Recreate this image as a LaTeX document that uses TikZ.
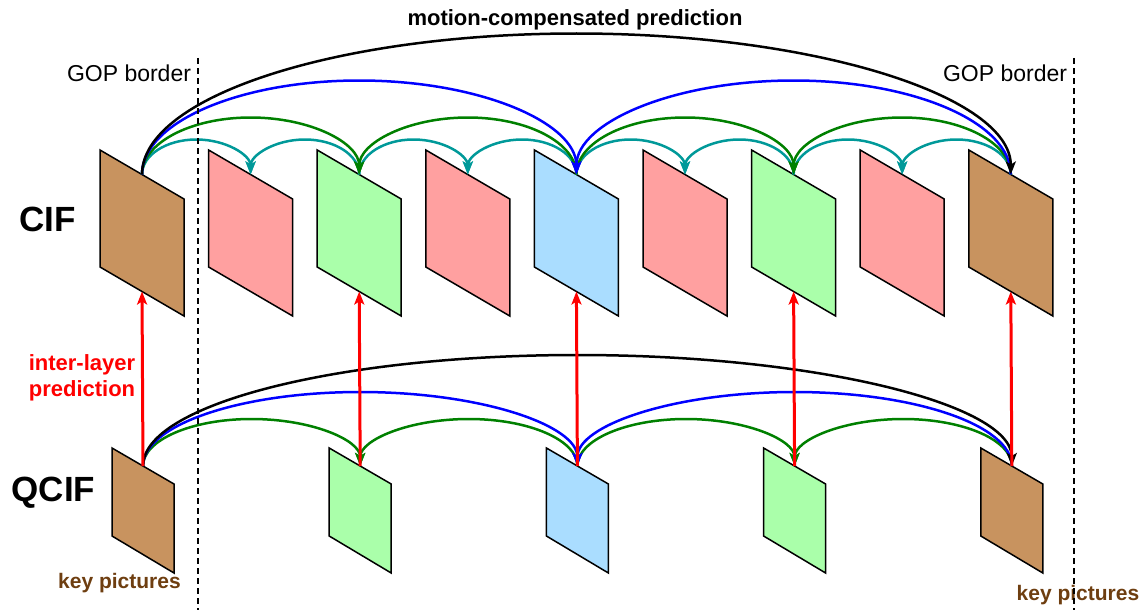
\documentclass[tikz,border=0pt]{standalone}
\usepackage{fontspec}
\setmainfont{Liberation Sans}
\usetikzlibrary{arrows.meta}
\definecolor{fbrown}{RGB}{200,147,95}
\definecolor{fpink}{RGB}{255,160,160}
\definecolor{fgreen}{RGB}{170,255,170}
\definecolor{fblue}{RGB}{170,221,255}
\definecolor{ateal}{RGB}{0,153,153}
\definecolor{agreen}{RGB}{0,128,0}
\definecolor{ablue}{RGB}{0,0,255}
\definecolor{keybrown}{RGB}{110,62,16}
\begin{document}
\begin{tikzpicture}[x=1pt,y=-1pt,
  framestyle/.style={draw=black,line width=1.5pt,line join=miter},
  arc/.style={line width=2.5pt,-{Stealth[length=13pt,width=10pt,inset=3pt]}},
  tealarc/.style={arc,ateal},
  greenarc/.style={arc,agreen},
  bluearc/.style={arc,ablue},
  blackarc/.style={arc,black},
  redarrow/.style={line width=3pt,red,-{Stealth[length=13pt,width=10pt,inset=3pt]}},
  gopline/.style={line width=2.3pt,dash pattern=on 6pt off 4pt},
  goptext/.style={font=\fontsize{23}{26}\selectfont,inner sep=0pt},
  layertext/.style={font=\fontsize{35}{40}\selectfont\bfseries,inner sep=0pt},
  keytext/.style={font=\fontsize{21}{24}\selectfont\bfseries,text=keybrown,inner sep=0pt}
]
\useasboundingbox (0,0) rectangle (1147,610);

% CIF frames
\foreach \i/\c in {0/fbrown,1/fpink,2/fgreen,3/fpink,4/fblue,5/fpink,6/fgreen,7/fpink,8/fbrown}{
  \pgfmathsetmacro\xl{100+108.6*\i}
  \draw[framestyle,fill=\c] (\xl,150) -- ++(84,49) -- ++(0,117) -- ++(-84,-49) -- cycle;
  \coordinate (C\i) at (\xl+42,174.5);
  \coordinate (Cb\i) at (\xl+42,291.5);
}
% QCIF frames
\foreach \j/\c in {0/fbrown,1/fgreen,2/fblue,3/fgreen,4/fbrown}{
  \pgfmathsetmacro\xl{112+217.2*\j}
  \draw[framestyle,fill=\c] (\xl,448) -- ++(62,36) -- ++(0,89) -- ++(-62,-37) -- cycle;
  \coordinate (Q\j) at (\xl+31,466);
}

% CIF arcs (elliptic, from source frame to target frame)
\foreach \a in {0,2,4,6}
  \draw[tealarc] (C\a) arc[start angle=180,end angle=0,x radius=54.3pt,y radius=35pt];
\foreach \a in {2,4,6,8}
  \draw[tealarc] (C\a) arc[start angle=0,end angle=180,x radius=54.3pt,y radius=35pt];
\foreach \a in {0,4}
  \draw[greenarc] (C\a) arc[start angle=180,end angle=0,x radius=108.6pt,y radius=57pt];
\foreach \a in {4,8}
  \draw[greenarc] (C\a) arc[start angle=0,end angle=180,x radius=108.6pt,y radius=57pt];
\draw[bluearc] (C0) arc[start angle=180,end angle=0,x radius=217.2pt,y radius=94pt];
\draw[bluearc] (C8) arc[start angle=0,end angle=180,x radius=217.2pt,y radius=94pt];
\draw[blackarc] (C0) arc[start angle=180,end angle=0,x radius=434.4pt,y radius=141pt];

% QCIF arcs
\foreach \a in {0,2}
  \draw[greenarc] (Q\a) arc[start angle=180,end angle=0,x radius=108.6pt,y radius=47pt];
\foreach \a in {2,4}
  \draw[greenarc] (Q\a) arc[start angle=0,end angle=180,x radius=108.6pt,y radius=47pt];
\draw[bluearc] (Q0) arc[start angle=180,end angle=0,x radius=217.2pt,y radius=74pt];
\draw[bluearc] (Q4) arc[start angle=0,end angle=180,x radius=217.2pt,y radius=74pt];
\draw[blackarc] (Q0) arc[start angle=180,end angle=0,x radius=434.4pt,y radius=111pt];

% inter-layer arrows
\draw[redarrow] (Q0) -- (Cb0);
\draw[redarrow] (Q1) -- (Cb2);
\draw[redarrow] (Q2) -- (Cb4);
\draw[redarrow] (Q3) -- (Cb6);
\draw[redarrow] (Q4) -- (Cb8);

% labels
\node[font=\fontsize{22}{24}\selectfont\bfseries,inner sep=0pt] (title) at (575,20) {motion-compensated prediction};
\node[goptext] (gopL) at (129,73) {GOP border};
\node[goptext] (gopR) at (1005,73) {GOP border};
\node[layertext] (cif) at (47.5,219.5) {CIF};
\node[layertext] (qcif) at (53.5,492.5) {QCIF};
\node[font=\fontsize{22}{26}\selectfont\bfseries,text=red,align=center,inner sep=0pt] (ilp) at (82,378) {inter-layer\\prediction};
\node[keytext] (keyL) at (119.5,583) {key pictures};
\node[keytext] (keyR) at (1078,595) {key pictures};

% GOP borders
\coordinate (gl1) at (198,58); \coordinate (gl2) at (198,610);
\coordinate (gr1) at (1074,58); \coordinate (gr2) at (1074,610);
\draw[gopline] (gl1) -- (gl2);
\draw[gopline] (gr1) -- (gr2);
\end{tikzpicture}
\end{document}
